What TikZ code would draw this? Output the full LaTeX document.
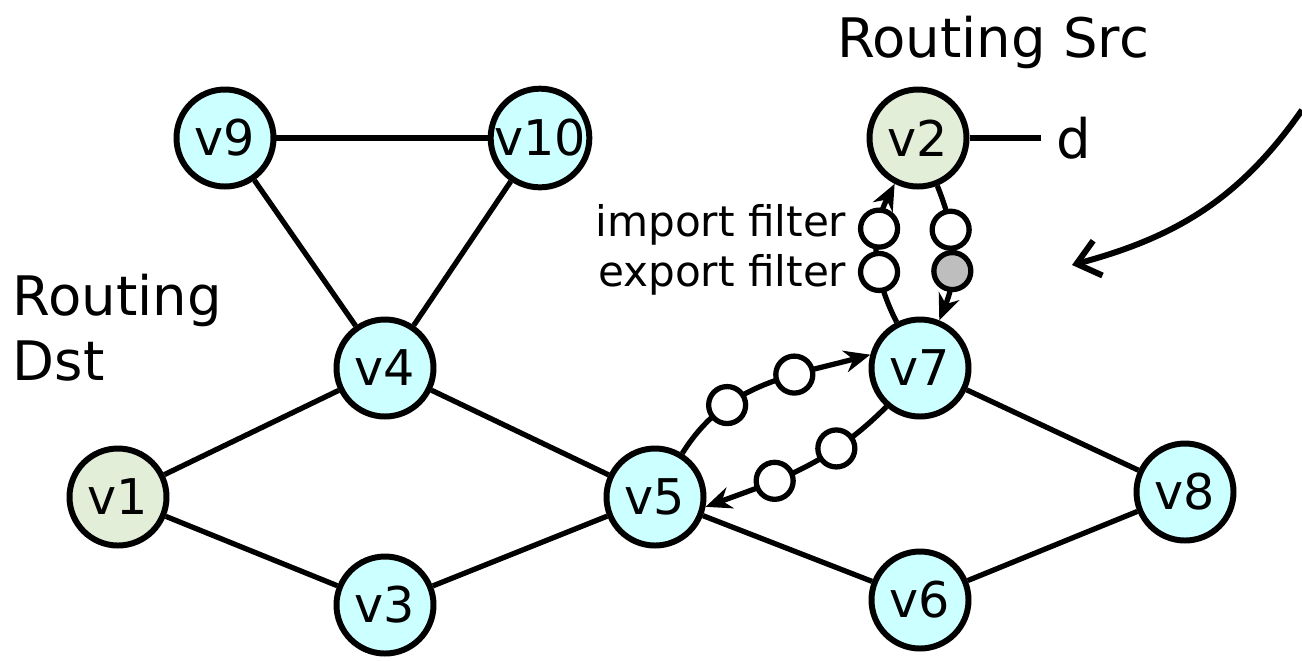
\documentclass[tikz,border=0pt]{standalone}
\usepackage{fontspec}
\setmainfont{DejaVu Sans}
\usetikzlibrary{arrows.meta, positioning}

\definecolor{vcyan}{RGB}{204,255,255}
\definecolor{vgreen}{RGB}{226,238,216}
\definecolor{fgray}{RGB}{190,190,190}

\begin{document}
\begin{tikzpicture}[
    font=\fontsize{14}{16}\selectfont,
    vtx/.style={circle, draw, line width=1.7pt, minimum size=0.97cm, inner sep=0pt, fill=vcyan},
    srcv/.style={vtx, fill=vgreen},
    flt/.style={circle, draw, line width=1.5pt, minimum size=0.37cm, inner sep=0pt, fill=white},
    ln/.style={line width=1.5pt},
    flow/.style={line width=1.5pt, -{Stealth[length=0.26cm, width=0.22cm]}},
    ptr/.style={line width=1.7pt, -{Straight Barb[length=0.22cm, width=0.36cm]}},
    lbl/.style={font=\fontsize{15.5}{18.5}\selectfont, inner sep=0pt},
    flbl/.style={font=\fontsize{12}{14}\selectfont, inner sep=0pt, anchor=east}
]
\useasboundingbox (0,0) rectangle (13.02,-6.6);

% vertices
\node[vtx]  (v9)  at (2.25,-1.38) {v9};
\node[vtx]  (v10) at (5.40,-1.38) {v10};
\node[srcv] (v2)  at (9.18,-1.38) {v2};
\node[vtx]  (v4)  at (3.85,-3.68) {v4};
\node[vtx]  (v7)  at (9.20,-3.68) {v7};
\node[srcv] (v1)  at (1.18,-4.97) {v1};
\node[vtx]  (v5)  at (6.55,-4.97) {v5};
\node[vtx]  (v8)  at (11.85,-4.92) {v8};
\node[vtx]  (v3)  at (3.85,-6.05) {v3};
\node[vtx]  (v6)  at (9.20,-6.00) {v6};

% labels
\node[lbl] (srclbl) at (9.93,-0.42) {Routing Src};
\node[lbl, align=left, anchor=west] (dstlbl) at (0.12,-3.28) {Routing\\Dst};
\node[lbl, right=0.86cm of v2] (d) {d};
\node[flbl] (implbl) at (8.47,-2.25) {import filter};
\node[flbl] (explbl) at (8.47,-2.75) {export filter};

% links
\draw[ln] (v9) -- (v10);
\draw[ln] (v9) -- (v4);
\draw[ln] (v10) -- (v4);
\draw[ln] (v4) -- (v1);
\draw[ln] (v4) -- (v5);
\draw[ln] (v1) -- (v3);
\draw[ln] (v3) -- (v5);
\draw[ln] (v5) -- (v6);
\draw[ln] (v6) -- (v8);
\draw[ln] (v7) -- (v8);
\draw[ln] (v2) -- ([xshift=-0.15cm]d.west);

% route announcements with filters
\draw[flow] (v7) to[out=117, in=-117]
    node[pos=0.36, flt] (fe1) {} node[pos=0.68, flt] (fi1) {} (v2);
\draw[flow] (v2) to[out=-68, in=68]
    node[pos=0.32, flt] (fi2) {} node[pos=0.64, flt, fill=fgray] (fe2) {} (v7);
\draw[flow] (v5.58) to[out=58, in=195]
    node[pos=0.3, flt] (fu1) {} node[pos=0.66, flt] (fu2) {} (v7.165);
\draw[flow] (v7.-131) to[out=-135, in=20]
    node[pos=0.3, flt] (fl1) {} node[pos=0.66, flt] (fl2) {} (v5.-11);

% pointer from the side
\coordinate (pin) at (13.02,-1.10);
\coordinate (ptip) at (10.72,-2.65);
\draw[ptr] (pin) to[out=-125, in=15] (ptip);
\end{tikzpicture}
\end{document}
